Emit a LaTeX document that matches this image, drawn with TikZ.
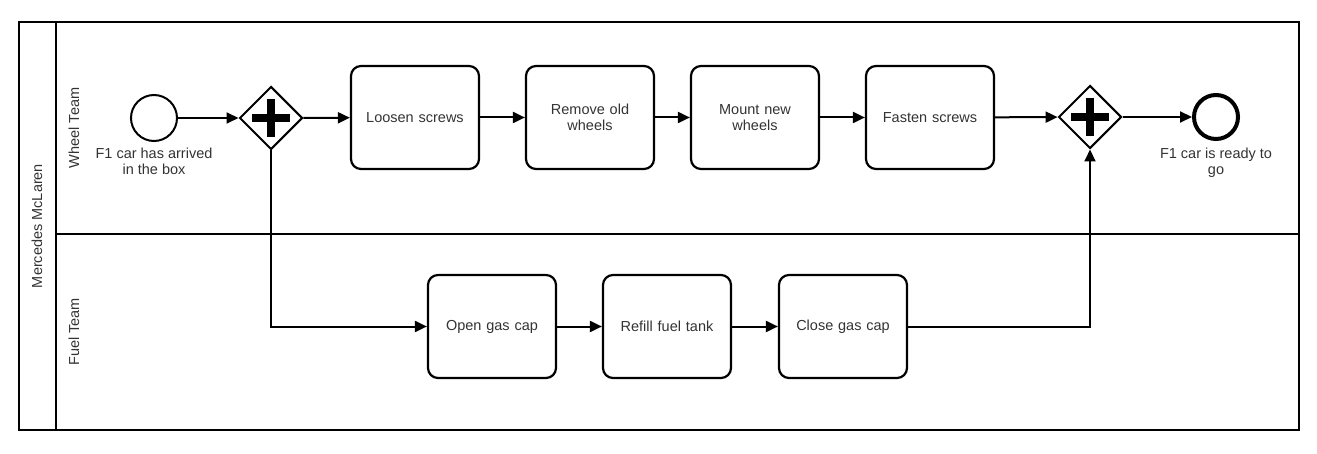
\documentclass[tikz,border=0pt]{standalone}
\usepackage{fontspec}
\setmainfont{Liberation Sans}
\usetikzlibrary{arrows.meta,shapes.geometric}
\begin{document}
\begin{tikzpicture}[x=1pt,y=-1pt,
  txt/.style={text=black!80,font=\fontsize{14.5}{16.5}\selectfont,align=center},
  task/.style={txt,draw=black,line width=2.2pt,rounded corners=10pt,minimum width=128pt,minimum height=103pt,text width=110pt,inner sep=0pt},
  gw/.style={draw=black,line width=2pt,diamond,minimum width=63pt,minimum height=63pt,inner sep=0pt,fill=white},
  ev/.style={draw=black,circle,minimum size=46pt,inner sep=0pt},
  flow/.style={draw=black,line width=2pt,-{Triangle[length=12pt,width=11pt]}},
  lane/.style={draw=black,line width=2.2pt},
  lbl/.style={txt,rotate=90}
]
\useasboundingbox (0,0) rectangle (1317,454);
% pool and lanes
\draw[lane] (19,22) rectangle (1299,430);
\draw[lane] (56,22) -- (56,430);
\draw[lane] (56,234) -- (1299,234);
\node[lbl] (pool) at (37,226) {Mercedes McLaren};
\node[lbl] (wlane) at (74,128) {Wheel Team};
\node[lbl] (flane) at (74,332) {Fuel Team};
% events
\node[ev,line width=2pt] (start) at (154,118) {};
\node[txt,anchor=north] (startl) at (154,144) {F1 car has arrived\\in the box};
\node[ev,line width=4pt,minimum size=44pt] (end) at (1216,117) {};
\node[txt,anchor=north] (endl) at (1216,144) {F1 car is ready to\\go};
% gateways
\node[gw] (g1) at (271,118) {};
\node[gw] (g2) at (1090,117) {};
\foreach \g in {g1,g2}{
  \fill[black] ([xshift=-19pt,yshift=-4pt]\g.center) rectangle ([xshift=19pt,yshift=4pt]\g.center);
  \fill[black] ([xshift=-4pt,yshift=-19pt]\g.center) rectangle ([xshift=4pt,yshift=19pt]\g.center);
}
% tasks
\node[task] (t1) at (415,117.5) {Loosen screws};
\node[task] (t2) at (590,117.5) {Remove old\\wheels};
\node[task] (t3) at (755,117.5) {Mount new\\wheels};
\node[task] (t4) at (930,117.5) {Fasten screws};
\node[task] (f1) at (492,326.5) {Open gas cap};
\node[task] (f2) at (667,326.5) {Refill fuel tank};
\node[task] (f3) at (843,326.5) {Close gas cap};
% flows
\draw[flow] (start) -- (g1);
\draw[flow] (g1) -- (t1);
\draw[flow] (t1) -- (t2);
\draw[flow] (t2) -- (t3);
\draw[flow] (t3) -- (t4);
\draw[flow] (t4) -- (g2);
\draw[flow] (g2) -- (end);
\draw[flow] (g1.south) |- (f1.west);
\draw[flow] (f1) -- (f2);
\draw[flow] (f2) -- (f3);
\draw[flow] (f3.east) -| (g2.south);
\end{tikzpicture}
\end{document}
